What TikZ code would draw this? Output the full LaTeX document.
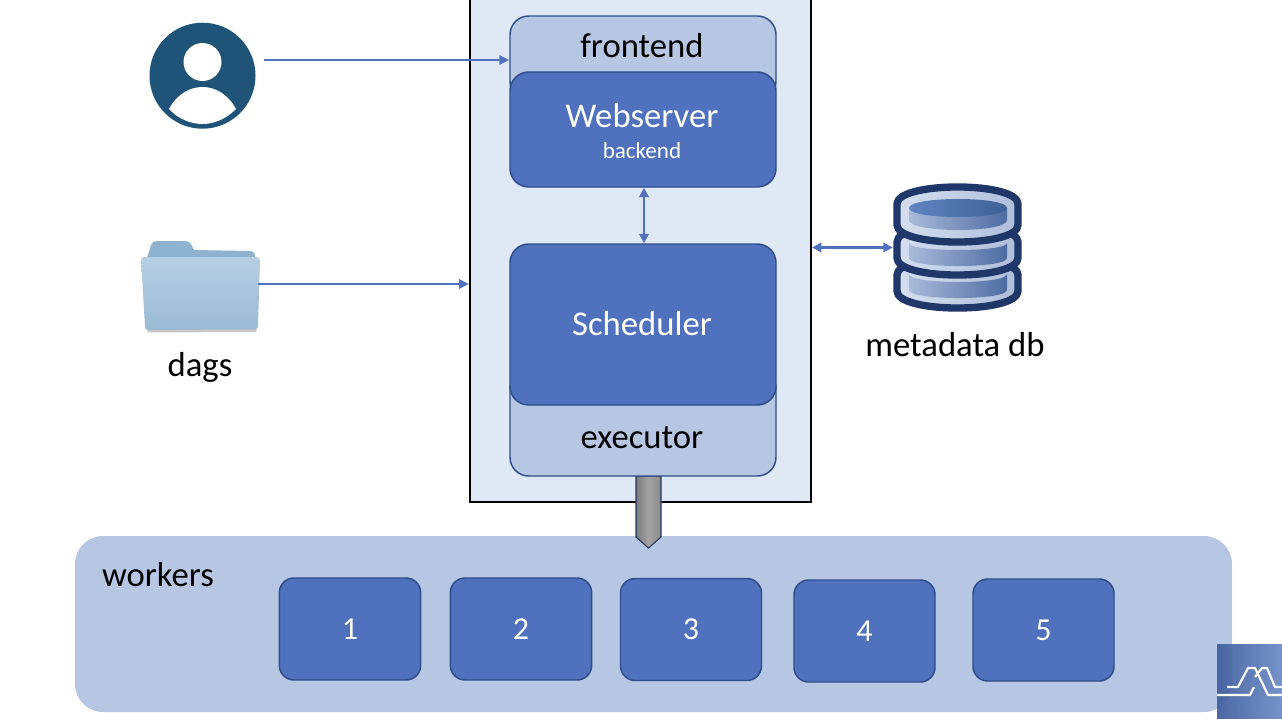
\documentclass[tikz,border=0pt]{standalone}
\usepackage{fontspec}
\setmainfont{Carlito}
\usetikzlibrary{arrows.meta}
\definecolor{midblue}{HTML}{4F71BE}
\definecolor{lightblue}{HTML}{B7C6E3}
\definecolor{paleblue}{HTML}{DFE8F5}
\definecolor{edgeblue}{HTML}{2F4D8A}
\definecolor{userblue}{HTML}{1F5378}
\definecolor{dbline}{HTML}{1F3869}
\definecolor{rimleft}{HTML}{D5DFF0}
\definecolor{rimright}{HTML}{AEBDD9}
\definecolor{bandleft}{HTML}{A9BAD9}
\definecolor{bandright}{HTML}{4E6CA3}
\definecolor{capleft}{HTML}{5F85C2}
\definecolor{capright}{HTML}{3F6096}
\definecolor{foldertab}{HTML}{8FB3CF}
\definecolor{foldertop}{HTML}{B7CFE3}
\definecolor{folderbottom}{HTML}{9ABAD5}
\definecolor{logoleft}{HTML}{42609F}
\definecolor{logoright}{HTML}{6F8EC6}
\tikzset{
  panel/.style={draw=edgeblue,line width=1.1pt,fill=lightblue,rounded corners=14pt,inner sep=0pt},
  darkpanel/.style={panel,fill=midblue,text=white},
  workerbox/.style={darkpanel,rounded corners=11pt,minimum width=106pt,minimum height=76.5pt,font=\fontsize{24}{26}\selectfont},
  label/.style={inner sep=0pt,text=black},
  biglabel/.style={label,font=\fontsize{26}{30}\selectfont},
  link/.style={draw=midblue,line width=1.7pt},
  tip/.style={-{Triangle[length=7.5pt,width=7pt]}},
  tips/.style={{Triangle[length=7pt,width=7pt]}-{Triangle[length=7pt,width=7pt]}},
  disk/.style={draw=dbline,line width=5.5pt,line join=round,left color=rimleft,right color=rimright},
  band/.style={left color=bandleft,right color=bandright},
  logoline/.style={white,line width=1.6pt,line join=round},
  ghost/.style={inner sep=0pt,draw=none}
}
\newcommand{\dbdisk}[2]{%
  \path[disk] (897,#1) -- (897,#2)
    .. controls (897,#2+22.7) and (1018,#2+22.7) .. (1018,#2) -- (1018,#1)
    .. controls (1018,#1-22.7) and (897,#1-22.7) .. (897,#1) -- cycle;}
\newcommand{\dbband}[4]{%
  \path[band]
    (909,#1) -- (909,#3) .. controls (909,#3+#4) and (1007,#3+#4) .. (1007,#3)
    -- (1007,#1) .. controls (1007,#1+#2) and (909,#1+#2) .. (909,#1) -- cycle;}
\begin{document}
\begin{tikzpicture}[x=0.75pt,y=-0.75pt]
\useasboundingbox (0,0) rectangle (1282,718);
% workers
\node[panel,draw=none,rounded corners=21pt,minimum width=867.75pt,minimum height=132pt] (workers) at (653.5,624) {};
\node[biglabel] (workerslabel) at (158,575) {workers};
\node[workerbox] (w1) at (350,629) {1};
\node[workerbox] (w2) at (521,629) {2};
\node[workerbox,minimum width=105.75pt] (w3) at (691,629.5) {3};
\node[workerbox,minimum width=105.75pt] (w4) at (864.5,631) {4};
\node[workerbox,minimum width=105.75pt] (w5) at (1043.5,630) {5};
% host box
\node[draw=black,line width=1.5pt,fill=paleblue,inner sep=0pt,minimum width=255.75pt,minimum height=378pt] (host) at (640.5,250) {};
% down arrow
\path[draw=edgeblue!70!black,line width=0.8pt,left color=black!52,right color=black!46,middle color=black!36]
  (636,476) -- (661,476) -- (661,537) -- (648.5,548) -- (636,537) -- cycle;
% inner panels
\node[panel,minimum width=199.5pt,minimum height=63pt] (front) at (643,58) {};
\node[panel,minimum width=199.5pt,minimum height=79.5pt] (exec) at (643,423) {};
\node[darkpanel,minimum width=199.5pt,minimum height=86.25pt] (web) at (643,129.5) {};
\node[darkpanel,minimum width=199.5pt,minimum height=120.75pt] (sched) at (643,324.5) {};
\node[biglabel] (frontlabel) at (642,46) {frontend};
\node[biglabel,text=white] (weblabel) at (642,116) {Webserver};
\node[label,text=white,font=\fontsize{17.3}{19}\selectfont] (backlabel) at (642,151) {backend};
\node[biglabel,text=white] (schedlabel) at (642,324) {Scheduler};
\node[biglabel] (execlabel) at (642,438) {executor};
% user
\node[circle,fill=userblue,inner sep=0pt,minimum size=79.5pt] (user) at (202.5,75.7) {};
\fill[white] (202.5,62) circle[radius=19];
\fill[white] (169,109) .. controls (177,94) and (190,87) .. (202.5,87)
  .. controls (215,87) and (228,94) .. (236,109)
  .. controls (226,119) and (214,124) .. (202.5,124)
  .. controls (191,124) and (178,119) .. (169,109) -- cycle;
% folder
\node[ghost,minimum width=87.75pt,minimum height=66pt] (folder) at (199.5,284) {};
\fill[black!22] (147,328) -- (257,328) -- (256,332) -- (148,332.5) -- cycle;
\fill[foldertab] (147,258) -- (151,245) .. controls (152,242) and (154,241) .. (157,241)
  -- (186,241) .. controls (189,241) and (190,243) .. (192,246) -- (194,250) -- (251,251)
  .. controls (254,251) and (255,253) .. (255,258) -- cycle;
\path[top color=foldertop,bottom color=folderbottom]
  (141,260) .. controls (141,258) and (142,257) .. (145,257) -- (256,257)
  .. controls (259,257) and (260,258) .. (260,261) -- (258,326) .. controls (258,328) and (257,329) .. (255,329)
  -- (148,330) .. controls (146,330) and (145,329) .. (145,326) -- cycle;
\node[biglabel] (dagslabel) at (200,367) {dags};
% database
\node[ghost,minimum width=96.75pt,minimum height=96.75pt] (db) at (957.5,247.5) {};
\dbdisk{275}{291}
\dbband{274}{10.7}{290}{10.7}
\dbdisk{242}{258}
\dbband{243}{9.3}{258}{10.7}
\dbdisk{204}{225}
\path[band]
  (909,208) -- (909,220) .. controls (909,233.3) and (1007,233.3) .. (1007,220) -- (1007,208) -- cycle;
\path[left color=capleft,right color=capright]
  (909,208) .. controls (909,196) and (1007,196) .. (1007,208)
  .. controls (1007,220) and (909,220) .. (909,208) -- cycle;
\node[biglabel] (dblabel) at (955,345) {metadata db};
% connectors
\coordinate (userout) at (264,60);
\draw[link,tip] (userout) -- (userout -| front.west);
\draw[link,tip] (folder.east) -- (folder.east -| host.west);
\draw[link,tips] (web.south -| 644,0) -- (sched.north -| 644,0);
\draw[link,tips] (db.west -| host.east) -- (db.west);
% logo
\path[left color=logoleft,right color=logoright,opacity=.95] (1217,644) rectangle (1282,718);
\draw[logoline] (1227,687) -- (1238,687) -- (1248,668) -- (1255,668) -- (1268,695) -- (1282,695);
\draw[logoline] (1217,695) -- (1250,695) -- (1254,687);
\draw[logoline] (1255,677) -- (1262,668) -- (1267,668) -- (1275,687) -- (1282,687);
\end{tikzpicture}
\end{document}
